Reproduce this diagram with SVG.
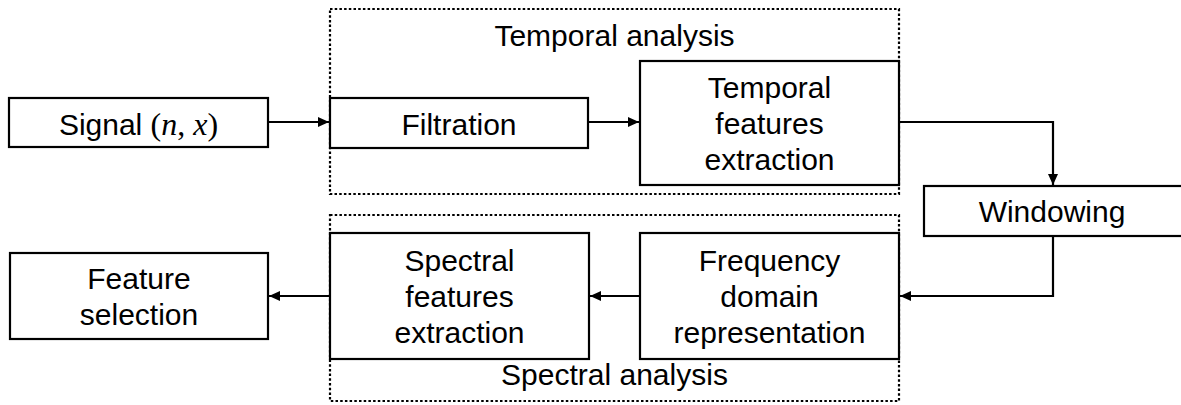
<svg xmlns="http://www.w3.org/2000/svg" width="1181" height="405" viewBox="0 0 1181 405">
<style>
.box{fill:#fff;stroke:#000;stroke-width:2.2}
.grp{fill:none;stroke:#000;stroke-width:2.2;stroke-dasharray:2.5 2.2}
.t{font-family:"Liberation Sans",Arial,sans-serif;font-size:30px;fill:#000;text-anchor:middle}
.m{font-family:"Liberation Serif","Times New Roman",serif;font-style:italic;font-size:32px}
.p{font-family:"Liberation Serif","Times New Roman",serif;font-size:32px}
.c{fill:none;stroke:#000;stroke-width:2.2}
</style>
<defs>
<marker id="ah" markerUnits="userSpaceOnUse" markerWidth="12" markerHeight="10" refX="11" refY="5" orient="auto">
<path d="M0,0 L11,5 L0,10 Z" fill="#000"/>
</marker>
</defs>
<g id="temporal-analysis">
<rect class="grp" x="330" y="9" width="569" height="185"/>
<text class="t" x="614.5" y="46">Temporal analysis</text>
</g>
<g id="spectral-analysis">
<rect class="grp" x="330" y="215" width="569" height="186"/>
<text class="t" x="614.5" y="385">Spectral analysis</text>
</g>
<g id="signal">
<rect class="box" x="9" y="98" width="259" height="49"/>
<text class="t" x="138.5" y="135">Signal <tspan class="p">(</tspan><tspan class="m">n</tspan><tspan class="p">,  </tspan><tspan class="m">x</tspan><tspan class="p">)</tspan></text>
</g>
<g id="filtration">
<rect class="box" x="330" y="98" width="258" height="50"/>
<text class="t" x="459" y="135">Filtration</text>
</g>
<g id="temporal-features">
<rect class="box" x="640" y="61" width="259" height="124"/>
<text class="t" x="769.5" y="98">Temporal</text>
<text class="t" x="769.5" y="134">features</text>
<text class="t" x="769.5" y="170">extraction</text>
</g>
<g id="windowing">
<rect class="box" x="924" y="186" width="262" height="50"/>
<text class="t" x="1052" y="222">Windowing</text>
</g>
<g id="frequency">
<rect class="box" x="640" y="233" width="259" height="126"/>
<text class="t" x="769.5" y="271">Frequency</text>
<text class="t" x="769.5" y="307">domain</text>
<text class="t" x="769.5" y="343">representation</text>
</g>
<g id="spectral-features">
<rect class="box" x="330" y="233" width="259" height="126"/>
<text class="t" x="459.5" y="271">Spectral</text>
<text class="t" x="459.5" y="307">features</text>
<text class="t" x="459.5" y="343">extraction</text>
</g>
<g id="feature-selection">
<rect class="box" x="10" y="253" width="258" height="86"/>
<text class="t" x="139" y="289">Feature</text>
<text class="t" x="139" y="325">selection</text>
</g>
<g id="connectors">
<path class="c" d="M268,122 H329" marker-end="url(#ah)"/>
<path class="c" d="M588,122 H639" marker-end="url(#ah)"/>
<path class="c" d="M899,122 H1053 V185" marker-end="url(#ah)"/>
<path class="c" d="M1053,236 V296 H900" marker-end="url(#ah)"/>
<path class="c" d="M640,296 H590" marker-end="url(#ah)"/>
<path class="c" d="M330,296 H269" marker-end="url(#ah)"/>
</g>
</svg>
